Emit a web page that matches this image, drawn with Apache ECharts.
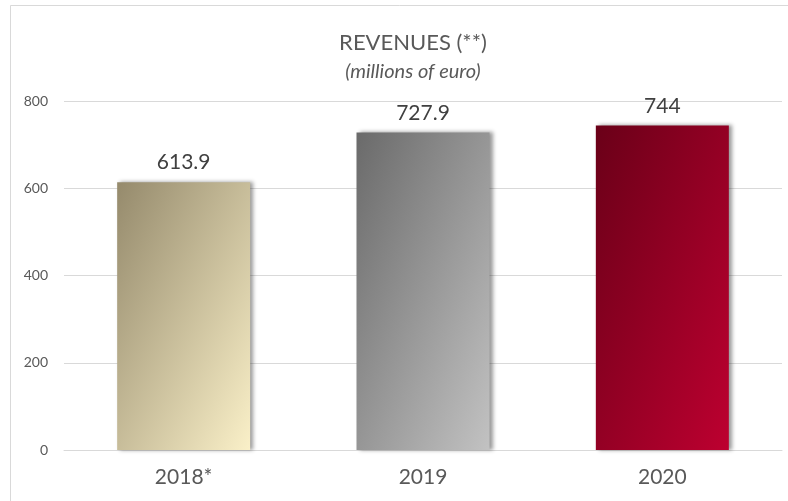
<!DOCTYPE html>
<html>
<head>
<meta charset="utf-8">
<script src="https://cdn.jsdelivr.net/npm/echarts@6/dist/echarts.min.js"></script>
<style>
  html, body { margin: 0; padding: 0; background: #fff; }
  #chart { width: 788px; height: 501px; }
</style>
</head>
<body>
<div id="chart"></div>
<script>
// chart values
const categories = ['2018*', '2019', '2020']
const revenues = [613.9, 727.9, 744]
const yTicks = [0, 200, 400, 600, 800]
// gradient ends per bar (top-left -> bottom-right)
const colorFrom = ['#958a6c', '#6a6a6a', '#6a0018']
const colorTo = ['#faf0c8', '#c2c2c2', '#bd0030']

const font = 'Lato, "Open Sans", sans-serif'
const plotHeight = 349
const barWidth = 133

// 45deg gradient in pixel space, expressed in the bar's bounding box
function diagGradient(value, i) {
  const h = value / yTicks[yTicks.length - 1] * plotHeight
  const w = barWidth
  const s = h * h + w * w
  return new echarts.graphic.LinearGradient(0, 0, 2 * h * h / s, 2 * w * w / s, [
    { offset: 0, color: colorFrom[i] },
    { offset: 1, color: colorTo[i] }
  ])
}

const chart = echarts.init(document.getElementById('chart'))

const option = {
  animation: false,
  backgroundColor: '#fff',
  graphic: [{
    type: 'rect',
    shape: { x: 10.5, y: 5.5, width: 800, height: 520 },
    style: { fill: 'none', stroke: '#d9d9d9', lineWidth: 1 },
    silent: true
  }],
  title: {
    text: 'REVENUES (**)',
    subtext: '(millions of euro)',
    left: 408,
    textAlign: 'center',
    top: 27,
    itemGap: 8,
    textStyle: { color: '#595959', fontSize: 22, fontWeight: 'normal', fontFamily: font },
    subtextStyle: { color: '#595959', fontSize: 20, fontStyle: 'italic', fontFamily: font }
  },
  grid: {
    left: 64,
    right: 6,
    top: 101,
    bottom: 51
  },
  xAxis: {
    type: 'category',
    data: categories,
    axisLine: { show: true, lineStyle: { color: '#d9d9d9', width: 1 } },
    axisTick: { show: false },
    axisLabel: { color: '#595959', fontSize: 21, margin: 17, fontFamily: font }
  },
  yAxis: {
    type: 'value',
    min: yTicks[0],
    max: yTicks[yTicks.length - 1],
    interval: yTicks[1] - yTicks[0],
    axisLine: { show: false },
    axisTick: { show: false },
    axisLabel: { color: '#595959', fontSize: 14, margin: 16, fontFamily: font },
    splitLine: { lineStyle: { color: '#d9d9d9', width: 1 } }
  },
  series: [{
    type: 'bar',
    barWidth: barWidth,
    data: revenues.map((v, i) => ({
      value: v,
      itemStyle: {
        color: diagGradient(v, i),
        shadowColor: 'rgba(0,0,0,0.4)',
        shadowBlur: 4,
        shadowOffsetX: 3,
        shadowOffsetY: 0
      }
    })),
    label: {
      show: true,
      position: 'top',
      distance: 9,
      color: '#404040',
      fontSize: 21,
      fontFamily: font
    }
  }]
}

chart.setOption(option)
</script>
</body>
</html>
